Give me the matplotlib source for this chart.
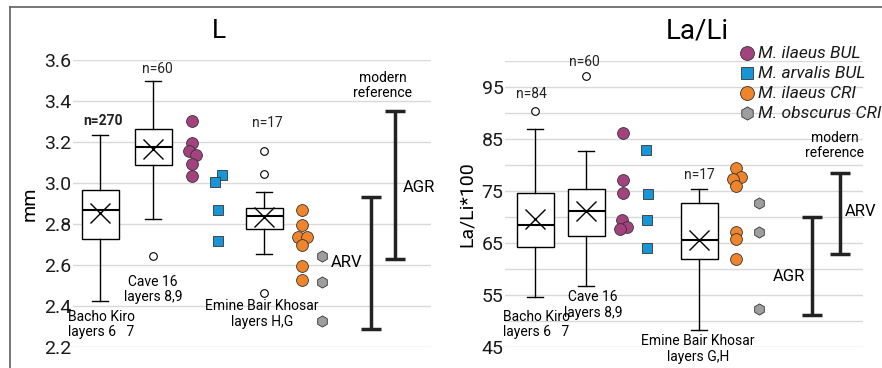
import numpy as np
import matplotlib
matplotlib.use("Agg")
from matplotlib import pyplot as plt
from matplotlib.lines import Line2D

plt.rcParams['font.family'] = ['Liberation Sans Narrow', 'Roboto', 'DejaVu Sans']

# ---- data: L (mm) ----
l_boxes = ["Bacho Kiro", "Cave 16", "Emine Bair Khosar"]
l_q1 = [2.725, 3.089, 2.774]
l_med = [2.870, 3.174, 2.837]
l_q3 = [2.964, 3.263, 2.880]
l_lo = [2.423, 2.826, 2.655]
l_hi = [3.236, 3.498, 2.954]
l_mean = [2.854, 3.167, 2.834]
l_fliers = [[], [2.644], [3.156, 3.046, 2.463]]
l_n = ["n=270", "n=60", "n=17"]

l_ilaeus_bul = [3.304, 3.195, 3.156, 3.135, 3.094, 3.034]
l_arvalis_bul = [3.041, 3.003, 2.867, 2.717]
l_ilaeus_cri = [2.867, 2.793, 2.735, 2.735, 2.699, 2.595, 2.525]
l_obscurus_cri = [2.642, 2.517, 2.327]
l_agr = (2.289, 2.932)
l_arv = (2.628, 3.353)

# ---- data: La/Li*100 ----
r_q1 = [64.28, 66.27, 61.84]
r_med = [68.39, 71.09, 65.50]
r_q3 = [74.56, 75.46, 72.76]
r_lo = [54.7, 56.7, 48.34]
r_hi = [86.97, 82.66, 75.46]
r_mean = [69.6, 71.2, 65.57]
r_fliers = [[90.3], [97.06], []]
r_n = ["n=84", "n=60", "n=17"]

r_ilaeus_bul = [86.2, 77.07, 74.63, 69.36, 68.07, 67.75]
r_arvalis_bul = [82.85, 74.43, 69.42, 63.96]
r_ilaeus_cri = [79.45, 77.7, 77.26, 75.9, 67.04, 65.82, 61.9]
r_obscurus_cri = [72.7, 67.04, 52.39]
r_agr = (51.23, 70.0)
r_arv = (62.8, 78.48)

legend_names = ["M. ilaeus BUL", "M. arvalis BUL", "M. ilaeus CRI", "M. obscurus CRI"]
styles = [dict(marker='o', color='#a4417f', ms=8.5),
          dict(marker='s', color='#1696d6', ms=7.5),
          dict(marker='o', color='#f0842a', ms=8.5),
          dict(marker='h', color='#9e9e9e', ms=8)]

SMALL = 10


def box_stats(q1, med, q3, lo, hi, mean, fliers):
    out = []
    for i in range(len(q1)):
        out.append(dict(q1=q1[i], med=med[i], q3=q3[i], whislo=lo[i], whishi=hi[i],
                        mean=mean[i], fliers=fliers[i]))
    return out


def draw_panel(ax, stats, pos, groups, offs, ylim, n_lab, n_pos):
    ax.bxp(stats, positions=pos[:3], widths=37, capwidths=16, showmeans=True,
           patch_artist=True,
           boxprops=dict(facecolor='white', edgecolor='black', linewidth=1),
           medianprops=dict(color='black', linewidth=1.5),
           whiskerprops=dict(color='black', linewidth=1),
           capprops=dict(color='black', linewidth=1),
           meanprops=dict(marker='x', markeredgecolor='black', markersize=14, markeredgewidth=1),
           flierprops=dict(marker='o', markerfacecolor='white', markeredgecolor='black',
                           markersize=5.5, markeredgewidth=0.8))
    for k, vals in enumerate(groups):
        st = styles[k]
        xs = [pos[3 + k] + o for o in offs[k]]
        ax.plot(xs, vals, linestyle='none', marker=st['marker'], markersize=st['ms'],
                markerfacecolor=st['color'], markeredgecolor='#333333', markeredgewidth=0.6,
                clip_on=False, zorder=4)
    for t, (x, y) in zip(n_lab, n_pos):
        ax.text(x, y, t, ha='center', va='center', fontsize=SMALL,
                fontweight='bold' if t == "n=270" else 'normal', color='#222222')
    ax.set_xlim(0, 358)
    ax.set_ylim(*ylim)
    for s in ax.spines.values():
        s.set_visible(False)
    ax.tick_params(length=0, labelsize=14, colors='#1a1a1a', pad=1)
    ax.set_xticks([])
    ax.grid(axis='y', which='both', color='#d9d9d9', linewidth=1)
    ax.set_axisbelow(True)


def range_bar(ax, x, lo, hi):
    ax.plot([x, x], [lo, hi], color='#222222', lw=2.5, solid_capstyle='butt', clip_on=False)
    for y in (lo, hi):
        ax.plot([x - 10, x + 10], [y, y], color='#222222', lw=2.5, solid_capstyle='butt',
                clip_on=False)


fig = plt.figure(figsize=(8.82, 3.68), dpi=100)
ax1 = fig.add_axes([73 / 882, 21 / 368, 358 / 882, 287 / 368])
ax2 = fig.add_axes([505 / 882, 21 / 368, 358 / 882, 286 / 368])

# frame around the figure
fig.add_artist(Line2D([10 / 882, 1], [1 - 7 / 368] * 2, color='#606060', lw=1.2))
fig.add_artist(Line2D([10 / 882] * 2, [0, 1 - 7 / 368], color='#606060', lw=1.2))

# ---- left panel ----
l_pos = [27, 80, 191, 119, 144, 229, 249]
l_offs = [[0, 0, -3.5, 3.5, 0, 0], [5, -2, 1, 1], [0, 0, -4.5, 4.5, 0, 0, 0], [0, 0, 0]]
draw_panel(ax1, box_stats(l_q1, l_med, l_q3, l_lo, l_hi, l_mean, l_fliers), l_pos,
           [l_ilaeus_bul, l_arvalis_bul, l_ilaeus_cri, l_obscurus_cri], l_offs,
           (2.2, 3.6), l_n, [(30, 3.302), (84, 3.554), (194, 3.294)])
ax1.set_yticks(np.arange(2.2, 3.61, 0.2))
ax1.set_yticklabels([f"{v:.1f}" for v in np.arange(2.2, 3.61, 0.2)])
ax1.set_ylabel("mm", fontsize=14, labelpad=4)
ax1.set_title("L", fontsize=19, pad=16, x=0.408)
range_bar(ax1, 298, *l_agr)
range_bar(ax1, 322, *l_arv)
ax1.text(289, 2.61, "ARV", ha='right', va='center', fontsize=12)
ax1.text(330, 2.98, "AGR", ha='left', va='center', fontsize=12)
ax1.text(310, 3.476, "modern\nreference", ha='center', va='center', fontsize=SMALL,
         linespacing=1.15)
ax1.text(-5, 2.309, "Bacho Kiro\nlayers 6   7", ha='left', va='center', fontsize=SMALL,
         linespacing=1.15, clip_on=False)
ax1.text(80, 2.48, "Cave 16\nlayers 8,9", ha='center', va='center', fontsize=SMALL,
         linespacing=1.15)
ax1.text(189, 2.36, "Emine Bair Khosar\nlayers H,G", ha='center', va='center', fontsize=SMALL,
         linespacing=1.15)

# ---- right panel ----
r_pos = [30, 81, 194, 118, 141, 231, 254]
r_offs = [[0, 0, 0, -1, 3.5, -3.5], [0, 2, 1, 1], [0, 5, -3, 0, 0, 0, 0], [0, 0, 0]]
draw_panel(ax2, box_stats(r_q1, r_med, r_q3, r_lo, r_hi, r_mean, r_fliers), r_pos,
           [r_ilaeus_bul, r_arvalis_bul, r_ilaeus_cri, r_obscurus_cri], r_offs,
           (45, 100), r_n, [(26.7, 93.65), (79, 99.9), (194, 78.1)])
ax2.set_yticks(np.arange(45, 96, 10))
ax2.set_yticks(np.arange(50, 101, 10), minor=True)
ax2.tick_params(which='minor', length=0)
ax2.set_ylabel("La/Li*100", fontsize=14, labelpad=4)
ax2.set_title("La/Li", fontsize=20, pad=16, x=0.536)
range_bar(ax2, 307, *r_agr)
range_bar(ax2, 335, *r_arv)
ax2.text(300, 58.6, "AGR", ha='right', va='center', fontsize=12)
ax2.text(340, 71.0, "ARV", ha='left', va='center', fontsize=12)
ax2.text(330, 83.75, "modern\nreference", ha='center', va='center', fontsize=SMALL,
         linespacing=1.15)
ax2.text(-2, 49.3, "Bacho Kiro\nlayers 6   7", ha='left', va='center', fontsize=SMALL,
         linespacing=1.15, clip_on=False)
ax2.text(88, 53.1, "Cave 16\nlayers 8,9", ha='center', va='center', fontsize=SMALL,
         linespacing=1.15)
ax2.text(193, 44.6, "Emine Bair Khosar\nlayers G,H", ha='center', va='center', fontsize=SMALL,
         linespacing=1.15, clip_on=False)

# ---- legend (drawn by hand, tight rows like the original) ----
tr = ax2.get_xaxis_transform()
for k, name in enumerate(legend_names):
    st = styles[k]
    y = 1 - (53 + 20 * k - 61) / 286
    ax2.plot([242], [y], transform=tr, marker=st['marker'],
             markersize=st['ms'] + 1.5, markerfacecolor=st['color'], markeredgecolor='#333333',
             markeredgewidth=0.6, clip_on=False, linestyle='none')
    ax2.text(253, y, name, transform=tr, ha='left', va='center',
             fontsize=12.5, style='italic', color='#1a1a1a', clip_on=False)

fig.savefig("out.png", dpi=100)
